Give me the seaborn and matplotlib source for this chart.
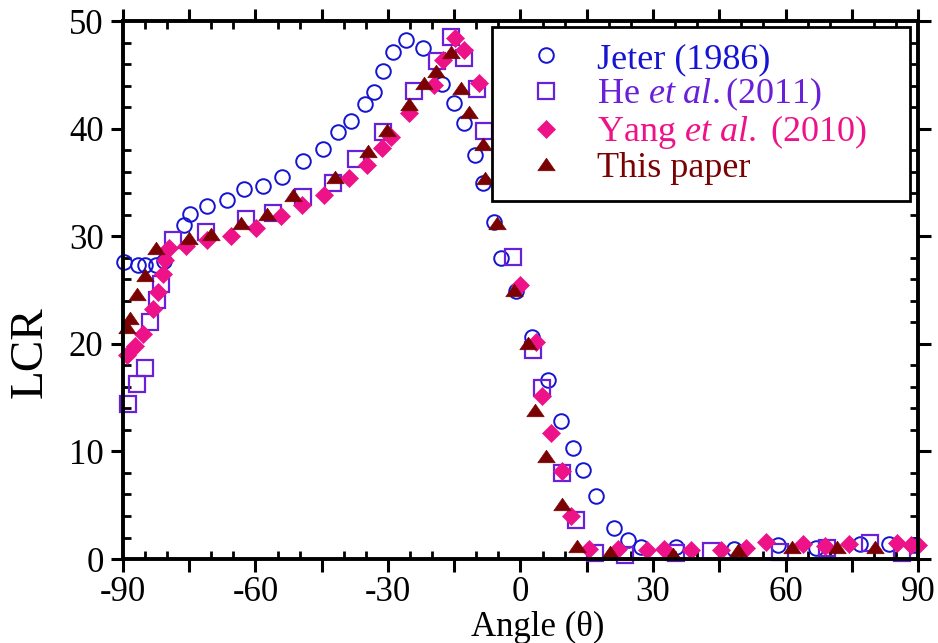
import numpy as np
import matplotlib
matplotlib.use("Agg")
import matplotlib.pyplot as plt
import seaborn as sns
from matplotlib.ticker import MultipleLocator, FuncFormatter
from matplotlib.path import Path

# ---------------- data ----------------
jeter_x = [-89.8, -86.6, -84.9, -82.6, -80.8, -76.2, -74.9, -70.9, -66.4, -62.5, -58.4, -54.0,
           -49.2, -44.7, -41.3, -38.4, -35.2, -33.2, -31.1, -28.8, -26.0, -22.0, -17.7, -15.1,
           -12.8, -10.2, -8.4, -5.9, -4.4, -1.1, 2.6, 6.3, 9.2, 11.8, 14.1, 17.1, 21.2, 24.4,
           27.2, 35.1, 48.3, 58.4, 66.8, 76.8, 83.4, 89.0]
jeter_y = [27.6, 27.3, 27.3, 27.3, 27.7, 31.1, 32.1, 32.8, 33.4, 34.4, 34.7, 35.5,
           37.0, 38.1, 39.7, 40.7, 42.3, 43.4, 45.4, 47.1, 48.3, 47.5, 44.2, 42.4,
           40.5, 37.6, 35.0, 31.3, 28.0, 24.9, 20.6, 16.6, 12.8, 10.3, 8.3, 5.9, 2.9, 1.75,
           1.08, 1.1, 0.95, 1.27, 1.0, 1.4, 1.4, 1.3]

he_x = [-88.9, -86.9, -85.1, -83.8, -82.3, -81.5, -78.6, -71.1, -62.1, -56.1, -49.3, -42.5,
        -37.2, -31.2, -24.2, -19.0, -15.8, -12.8, -9.9, -8.3, -1.7, 2.8, 4.9, 9.3, 12.6,
        16.8, 23.6, 35.2, 43.2, 58.7, 69.3, 79.2, 86.4]
he_y = [14.4, 16.3, 17.8, 22.0, 24.1, 25.6, 29.7, 30.4, 31.6, 32.2, 33.7, 35.0,
        37.2, 39.7, 43.5, 46.3, 48.5, 46.6, 43.7, 39.8, 28.1, 19.4, 15.9, 8.0, 3.65,
        0.53, 0.4, 0.53, 0.75, 0.68, 1.06, 1.48, 0.53]

yang_x = [-89.2, -87.2, -85.4, -83.2, -82.0, -81.0, -80.5, -79.6, -75.8, -70.9, -65.6, -59.9,
          -54.3, -49.4, -44.5, -38.8, -34.7, -31.3, -29.4, -25.3, -19.6, -17.6, -14.9, -12.8,
          -9.4, 0.0, 3.6, 4.8, 7.0, 9.3, 11.5, 15.6, 22.1, 28.6, 32.5, 38.7, 45.3, 51.1,
          55.5, 63.9, 68.9, 74.4, 85.3, 88.5, 90.0]
yang_y = [19.0, 19.8, 20.95, 23.2, 24.8, 26.5, 27.8, 28.9, 29.1, 29.7, 30.0, 30.8,
          31.9, 32.9, 33.8, 35.4, 36.6, 38.2, 39.2, 41.5, 44.1, 46.4, 48.4, 47.3,
          44.3, 25.5, 20.2, 15.2, 11.7, 8.2, 4.0, 0.97, 0.97, 0.84, 0.97, 0.87, 0.84, 1.0,
          1.58, 1.37, 1.17, 1.42, 1.5, 1.33, 1.33]

this_x = [-89.2, -88.4, -86.8, -85.1, -82.6, -75.1, -70.0, -63.2, -57.3, -51.5, -42.0, -34.5,
          -30.3, -25.3, -21.9, -19.2, -15.8, -13.4, -11.7, -8.5, -8.1, -5.3, -1.5, 1.7,
          3.2, 5.8, 9.3, 12.7, 20.2, 34.5, 49.2, 61.5, 71.7, 80.2]
this_y = [21.6, 22.4, 24.6, 26.4, 28.9, 29.8, 30.2, 31.2, 32.1, 33.8, 35.5, 37.9,
          39.9, 42.3, 44.3, 45.4, 47.1, 43.8, 41.6, 38.6, 35.4, 31.2, 25.0, 20.1,
          13.9, 9.6, 5.1, 1.2, 0.68, 0.5, 0.84, 1.15, 1.12, 1.08]

labels = ["Jeter (1986)", r"He $\mathit{et\ al.}$(2011)", r"Yang $\mathit{et\ al.}$ (2010)", "This paper"]
colors = ["#1414d2", "#6a1fd8", "#ee1289", "#7a0202"]
xticks_labeled = [-90, -60, -30, 0, 30, 60, 90]
yticks = [0, 10, 20, 30, 40, 50]

# ---------------- style ----------------
sns.set_theme(style="white")
plt.rcParams["font.family"] = ["Liberation Serif", "DejaVu Serif"]
plt.rcParams["mathtext.fontset"] = "custom"
plt.rcParams["mathtext.rm"] = "Liberation Serif"
plt.rcParams["mathtext.it"] = "Liberation Serif:italic"
plt.rcParams["axes.unicode_minus"] = False

fig = plt.figure(figsize=(9.38, 6.43), dpi=100)
ax = fig.add_axes([0.1311, 0.1306, 0.9787 - 0.1311, 0.967 - 0.1306])
fig.patch.set_facecolor("white")
ax.set_facecolor("white")

tri = Path([(-1, -0.72), (1, -0.72), (0, 0.72), (-1, -0.72)],
           [Path.MOVETO, Path.LINETO, Path.LINETO, Path.CLOSEPOLY])

common = dict(estimator=None, sort=False, linestyle="", ax=ax, clip_on=False)
sns.lineplot(x=jeter_x, y=jeter_y, marker="o", markersize=10.5, mfc="none",
             mec=colors[0], mew=1.4, color=colors[0], label=labels[0], zorder=3, **common)
sns.lineplot(x=he_x, y=he_y, marker="s", markersize=11.5, mfc="none",
             mec=colors[1], mew=1.6, color=colors[1], label=labels[1], zorder=4, **common)
sns.lineplot(x=yang_x, y=yang_y, marker="D", markersize=9.6, mfc=colors[2],
             mec=colors[2], mew=0.5, color=colors[2], label=labels[2], zorder=5, **common)
sns.lineplot(x=this_x, y=this_y, marker=tri, markersize=12.5, mfc=colors[3],
             mec=colors[3], mew=0.5, color=colors[3], label=labels[3], zorder=6, **common)

ax.set_xlim(-90, 90)
ax.set_ylim(0, 50)

ax.xaxis.set_major_locator(MultipleLocator(15))
ax.xaxis.set_minor_locator(MultipleLocator(5))
ax.xaxis.set_major_formatter(FuncFormatter(
    lambda v, p: ("%d" % round(v)) if round(v) in xticks_labeled else ""))
ax.set_yticks(yticks)
ax.yaxis.set_minor_locator(MultipleLocator(2))

ax.tick_params(which="major", direction="out", length=9, width=2.2, labelsize=25,
               top=True, right=True, bottom=True, left=True, colors="black", pad=3)
ax.tick_params(axis="y", which="major", pad=5)
ax.tick_params(which="minor", direction="in", length=6, width=2.0,
               top=True, right=True, bottom=True, left=True, colors="black")
for lab in ax.get_xticklabels() + ax.get_yticklabels():
    lab.set_color("black")

for sp in ax.spines.values():
    sp.set_linewidth(2.8)
    sp.set_color("black")
    sp.set_zorder(10)

ax.set_xlabel("Angle (θ)", fontsize=25, color="black")
ax.set_ylabel("LCR", fontsize=34, color="black")
ax.xaxis.set_label_coords(0.521, -0.097)
ax.yaxis.set_label_coords(-0.09, 0.385)

leg = ax.legend(loc="upper left", bbox_to_anchor=(0.464, 0.99, 0.526, 0.0), mode="expand",
                fontsize=26, frameon=True, fancybox=False, framealpha=1.0,
                edgecolor="black", borderpad=0.45, labelspacing=0.0,
                handlelength=2.1, handletextpad=0.35, borderaxespad=0.0)
leg.get_frame().set_linewidth(2.0)
leg.set_zorder(20)
for t, c in zip(leg.get_texts(), colors):
    t.set_color(c)

fig.savefig("out.png", dpi=100, facecolor="white")
